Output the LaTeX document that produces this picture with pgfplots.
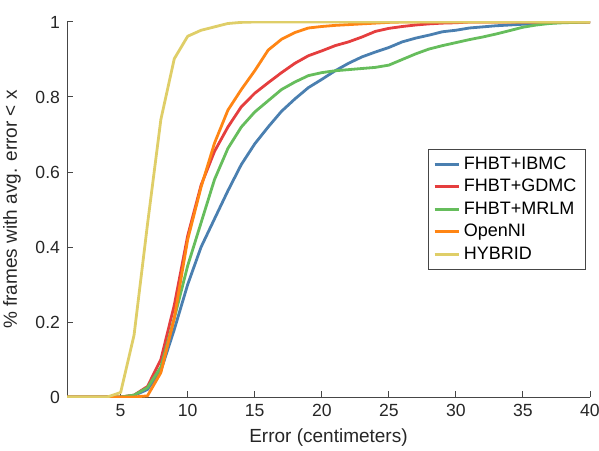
\documentclass[border=0pt]{standalone}
\usepackage{pgfplots}
\pgfplotsset{compat=1.18}
\usepackage{fontspec}
\setmainfont{Liberation Sans}
\definecolor{cBlue}{RGB}{74,127,176}
\definecolor{cRed}{RGB}{229,62,62}
\definecolor{cGreen}{RGB}{102,189,92}
\definecolor{cOrange}{RGB}{255,133,20}
\definecolor{cYellow}{RGB}{223,206,104}
\definecolor{axgray}{RGB}{70,70,70}
\definecolor{txtgray}{RGB}{38,38,38}
\begin{document}
\begin{tikzpicture}
\path[use as bounding box] (-33.5pt,-26.5pt) rectangle (266pt,198.5pt);
\begin{axis}[
    at={(0,0)}, anchor=south west,
    scale only axis,
    width=261.5pt, height=187.5pt,
    xmin=1, xmax=40, ymin=0, ymax=1,
    xtick={5,10,...,40},
    ytick={0,0.2,...,1},
    yticklabels={0,0.2,0.4,0.6,0.8,1},
    axis x line*=bottom, axis y line*=left,
    axis line style={axgray, line width=0.5pt, -},
    tick style={axgray, line width=0.5pt},
    tick align=inside,
    major tick length=3pt,
    font=\fontsize{8.8}{10}\selectfont,
    tick label style={txtgray},
    /pgf/number format/assume math mode=true,
    xlabel={Error (centimeters)},
    ylabel={\% frames with avg. error < x},
    label style={font=\fontsize{9.5}{11}\selectfont},
    x label style={txtgray, at={(axis description cs:0.5,-0.109)}, anchor=center},
    y label style={txtgray, at={(axis description cs:-0.105,0.5)}, anchor=center},
    legend style={at={(0.992,0.661)}, anchor=north east, draw=axgray,
        fill=white, font=\fontsize{9}{10}\selectfont, text=black,
        inner xsep=2.5pt, inner ysep=1.5pt, row sep=-0.5pt},
    legend cell align=left,
    legend image code/.code={\draw[line width=1.4pt] (0pt,0pt) -- (12pt,0pt);},
    every axis plot/.append style={line width=1.4pt, no markers, line join=round},
]
\addplot[cBlue] coordinates {
(1,0)(2,0)(3,0)(4,0)(5,0)(6,0.004)(7,0.02)(8,0.07)(9,0.18)(10,0.30)
(11,0.40)(12,0.475)(13,0.55)(14,0.62)(15,0.675)(16,0.72)(17,0.762)(18,0.795)(19,0.825)(20,0.847)
(21,0.87)(22,0.89)(23,0.907)(24,0.92)(25,0.932)(26,0.947)(27,0.957)(28,0.965)(29,0.974)(30,0.978)
(31,0.984)(32,0.987)(33,0.99)(34,0.992)(35,0.994)(36,0.996)(37,0.998)(38,0.999)(39,1)(40,1)};
\addlegendentry{FHBT+IBMC}
\addplot[cRed] coordinates {
(1,0)(2,0)(3,0)(4,0)(5,0)(6,0.005)(7,0.028)(8,0.10)(9,0.245)(10,0.43)
(11,0.565)(12,0.655)(13,0.72)(14,0.774)(15,0.81)(16,0.838)(17,0.865)(18,0.89)(19,0.91)(20,0.923)
(21,0.937)(22,0.947)(23,0.96)(24,0.975)(25,0.983)(26,0.988)(27,0.992)(28,0.995)(29,0.997)(30,0.998)
(31,1)(32,1)(33,1)(34,1)(35,1)(36,1)(37,1)(38,1)(39,1)(40,1)};
\addlegendentry{FHBT+GDMC}
\addplot[cGreen] coordinates {
(1,0)(2,0)(3,0)(4,0)(5,0)(6,0.005)(7,0.025)(8,0.08)(9,0.21)(10,0.35)
(11,0.465)(12,0.58)(13,0.663)(14,0.72)(15,0.76)(16,0.79)(17,0.82)(18,0.84)(19,0.857)(20,0.865)
(21,0.87)(22,0.873)(23,0.876)(24,0.879)(25,0.885)(26,0.9)(27,0.915)(28,0.928)(29,0.937)(30,0.945)
(31,0.953)(32,0.96)(33,0.968)(34,0.977)(35,0.986)(36,0.992)(37,0.996)(38,0.998)(39,0.999)(40,1)};
\addlegendentry{FHBT+MRLM}
\addplot[cOrange] coordinates {
(1,0)(2,0)(3,0)(4,0)(5,0)(6,0)(7,0.003)(8,0.065)(9,0.21)(10,0.42)
(11,0.56)(12,0.677)(13,0.765)(14,0.82)(15,0.87)(16,0.925)(17,0.954)(18,0.972)(19,0.984)(20,0.988)
(21,0.991)(22,0.993)(23,0.995)(24,0.997)(25,0.999)(26,1)(27,1)(28,1)(29,1)(30,1)
(31,1)(32,1)(33,1)(34,1)(35,1)(36,1)(37,1)(38,1)(39,1)(40,1)};
\addlegendentry{OpenNI}
\addplot[cYellow] coordinates {
(1,0)(2,0)(3,0)(4,0)(5,0.012)(6,0.165)(7,0.46)(8,0.74)(9,0.902)(10,0.962)
(11,0.978)(12,0.987)(13,0.996)(14,0.999)(15,1)(16,1)(17,1)(18,1)(19,1)(20,1)
(21,1)(22,1)(23,1)(24,1)(25,1)(26,1)(27,1)(28,1)(29,1)(30,1)
(31,1)(32,1)(33,1)(34,1)(35,1)(36,1)(37,1)(38,1)(39,1)(40,1)};
\addlegendentry{HYBRID}
\end{axis}
\end{tikzpicture}
\end{document}
